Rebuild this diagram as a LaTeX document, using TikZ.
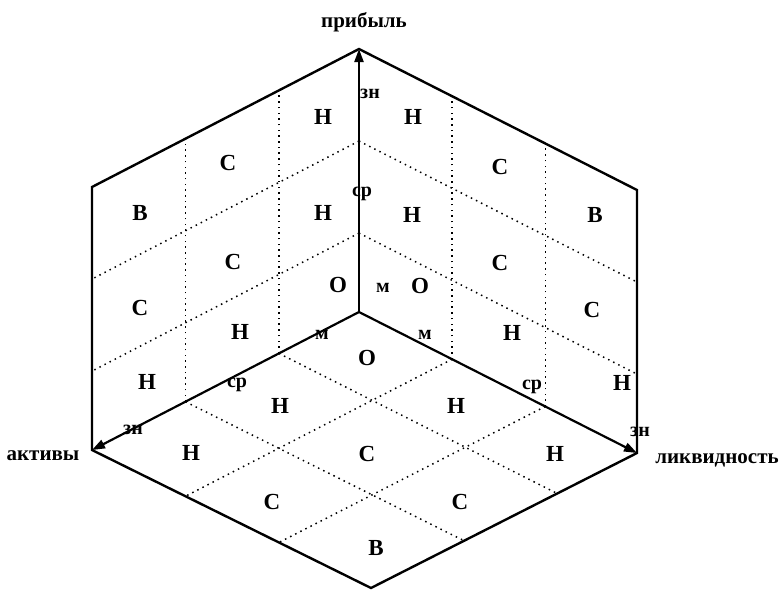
\documentclass[tikz,border=0pt]{standalone}
\usepackage{fontspec}
\setmainfont{Liberation Serif}
\usetikzlibrary{arrows.meta,calc}
\begin{document}
\begin{tikzpicture}[x=1pt,y=-1pt,
  edge/.style={line width=2.4pt, line join=miter},
  axis/.style={line width=2.2pt, -{Triangle[length=13pt,width=9pt]}},
  gridline/.style={line width=1.5pt, dash pattern=on 1.5pt off 4.2pt},
  cell/.style={font=\fontsize{23}{26}\selectfont\bfseries, inner sep=0pt, anchor=base},
  tick/.style={font=\fontsize{20}{23}\selectfont\bfseries, inner sep=0pt, anchor=base},
  axlab/.style={font=\fontsize{21}{25}\selectfont\bfseries, inner sep=0pt, anchor=base}]
\useasboundingbox (0,0) rectangle (780,590);
% main points
\coordinate (O) at (359,312);
\coordinate (T) at (359,49);
\coordinate (A) at (92,450);
\coordinate (Q) at (637,453);
\coordinate (UL) at (92,187);
\coordinate (UR) at (637,190);
\coordinate (B) at (371,588);
% grid points
\coordinate (l1) at ($(O)!0.30!(A)$);
\coordinate (l2) at ($(O)!0.65!(A)$);
\coordinate (r1) at ($(O)!0.335!(Q)$);
\coordinate (r2) at ($(O)!0.67!(Q)$);
\coordinate (u1) at ($(O)!0.30!(T)$);
\coordinate (u2) at ($(O)!0.65!(T)$);
\coordinate (tl1) at ($(T)!0.30!(UL)$);
\coordinate (tl2) at ($(T)!0.65!(UL)$);
\coordinate (tr1) at ($(T)!0.335!(UR)$);
\coordinate (tr2) at ($(T)!0.67!(UR)$);
\coordinate (al1) at ($(A)!0.30!(UL)$);
\coordinate (al2) at ($(A)!0.65!(UL)$);
\coordinate (qr1) at ($(Q)!0.30!(UR)$);
\coordinate (qr2) at ($(Q)!0.65!(UR)$);
\coordinate (bq1) at ($(Q)!0.30!(B)$);
\coordinate (bq2) at ($(Q)!0.65!(B)$);
\coordinate (ba1) at ($(A)!0.335!(B)$);
\coordinate (ba2) at ($(A)!0.67!(B)$);
% dotted grid
\draw[gridline] (l1) -- (tl1);
\draw[gridline] (l2) -- (tl2);
\draw[gridline] (u1) -- (al1);
\draw[gridline] (u2) -- (al2);
\draw[gridline] (r1) -- (tr1);
\draw[gridline] (r2) -- (tr2);
\draw[gridline] (u1) -- (qr1);
\draw[gridline] (u2) -- (qr2);
\draw[gridline] (l1) -- (bq1);
\draw[gridline] (l2) -- (bq2);
\draw[gridline] (r1) -- (ba1);
\draw[gridline] (r2) -- (ba2);
% outline
\draw[edge] (T) -- (UL) -- (A) -- (B) -- (Q) -- (UR) -- cycle;
% axes
\draw[axis] (O) -- (T);
\draw[axis] (O) -- (A);
\draw[axis] (O) -- (Q);
% axis names
\node[axlab] (nup) at (364,27) {прибыль};
\node[axlab] (nleft) at (43,460) {активы};
\node[axlab] (nright) at (717,463) {ликвидность};
% tick labels
\node[tick] (tu3) at (370,98) {зн};
\node[tick] (tu2) at (362,196) {ср};
\node[tick] (tu1) at (383,292) {м};
\node[tick] (tl1n) at (322,339) {м};
\node[tick] (tl2n) at (237,387) {ср};
\node[tick] (tl3n) at (133,434) {зн};
\node[tick] (tr1n) at (425,339) {м};
\node[tick] (tr2n) at (532,389) {ср};
\node[tick] (tr3n) at (640,436) {зн};
% left face
\node[cell] (a1) at (323,124) {Н};
\node[cell] (a2) at (228,170) {С};
\node[cell] (a3) at (140,220) {В};
\node[cell] (a4) at (323,220) {Н};
\node[cell] (a5) at (233,269) {С};
\node[cell] (a6) at (140,315) {С};
\node[cell] (a7) at (338,292) {О};
\node[cell] (a8) at (240,339) {Н};
\node[cell] (a9) at (147,389) {Н};
% right face
\node[cell] (b1) at (413,124) {Н};
\node[cell] (b2) at (500,174) {С};
\node[cell] (b3) at (595,222) {В};
\node[cell] (b4) at (412,222) {Н};
\node[cell] (b5) at (500,270) {С};
\node[cell] (b6) at (592,317) {С};
\node[cell] (b7) at (420,293) {О};
\node[cell] (b8) at (512,340) {Н};
\node[cell] (b9) at (622,390) {Н};
% floor
\node[cell] (c1) at (367,365) {О};
\node[cell] (c2) at (280,413) {Н};
\node[cell] (c3) at (456,413) {Н};
\node[cell] (c4) at (191,460) {Н};
\node[cell] (c5) at (367,461) {С};
\node[cell] (c6) at (555,461) {Н};
\node[cell] (c7) at (272,509) {С};
\node[cell] (c8) at (460,509) {С};
\node[cell] (c9) at (376,555) {В};
\end{tikzpicture}
\end{document}
